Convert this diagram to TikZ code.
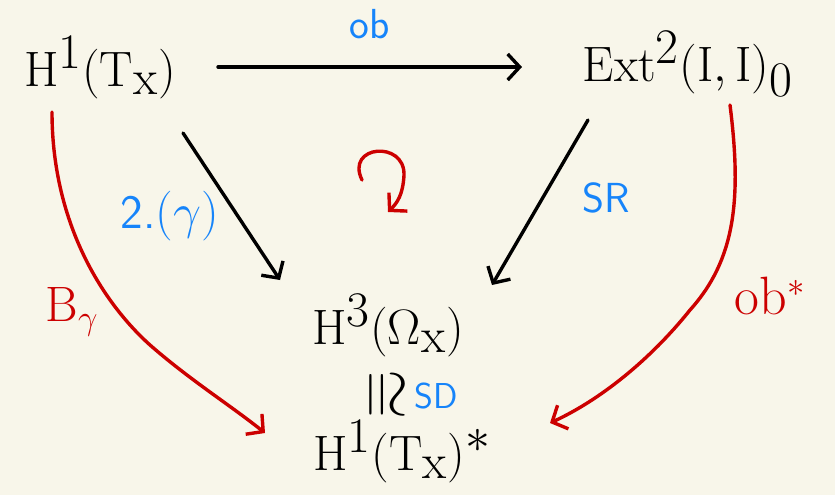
\documentclass[tikz,border=0pt]{standalone}
\usepackage{amsmath,amssymb}
\usetikzlibrary{arrows.meta}
\definecolor{paper}{RGB}{248,246,234}
\definecolor{penblue}{RGB}{22,132,250}
\definecolor{penred}{RGB}{204,0,0}

\begin{document}
\begin{tikzpicture}[x=0.5pt,y=-0.5pt,
  obj/.style={font=\fontsize{34}{38}\selectfont, inner sep=1pt},
  bluelbl/.style={font=\fontsize{19}{22}\selectfont\sffamily, text=penblue},
  redlbl/.style={font=\fontsize{27}{30}\selectfont, text=penred},
  map/.style={line width=1.7pt, line cap=round,
    -{Straight Barb[length=6pt,width=13pt,line width=1.7pt]}},
  redmap/.style={map, draw=penred}]
  \fill[paper] (0,0) rectangle (835,495);

  % the four spaces
  \node[obj] (h1) at (100,68) {$\mathrm{H^1(T_x)}$};
  \node[obj] (ext) at (688,64) {$\mathrm{Ext^2(I,I)_0}$};
  \node[obj] (h3) at (388,326) {$\mathrm{H^3(\Omega_x)}$};
  \node[obj] (dual) at (402,452) {$\mathrm{H^1(T_x)^*}$};

  \node[rotate=-90, inner sep=0pt, font=\fontsize{24.88}{28}\selectfont] (iso) at (383,395) {\scalebox{1.3}{$\cong$}};
  \node[bluelbl, font=\fontsize{18}{20}\selectfont\sffamily] (sd) at (436,396) {SD};

  % black maps
  \draw[map] ([shift={(118,-1)}]h1.center) -- ([shift={(-166,3)}]ext.center)
    node[midway, above=10pt, bluelbl, font=\fontsize{21}{24}\selectfont\sffamily] (ob) {ob};
  \draw[map] ([shift={(83,65)}]h1.center) -- ([shift={(-108,-46)}]h3.center);
  \draw[map] ([shift={(-100,56)}]ext.center) -- ([shift={(104,-41)}]h3.center);
  \node[bluelbl, font=\fontsize{24}{28}\selectfont\sffamily] (gam) at (170,216) {2.$(\gamma)$};
  \node[bluelbl, font=\fontsize{21}{24}\selectfont\sffamily] (sr) at (606,198) {SR};

  % red maps
  \draw[redmap] ([shift={(-48,44)}]h1.center) .. controls (52,220) and (100,300) .. (150,345)
    .. controls (190,380) and (230,405) .. ([shift={(-137,-19)}]dual.center);
  \draw[redmap] ([shift={(42,41)}]ext.center) .. controls (742,200) and (735,260) .. (690,310)
    .. controls (650,360) and (600,400) .. ([shift={(148,-29)}]dual.center);
  \node[redlbl] (bg) at (72,312) {$\mathrm{B}_\gamma$};
  \node[redlbl] (obs) at (770,296) {ob$^{*}$};

  % commutes
  \draw[redmap] (362,180) .. controls (345,145) and (405,140) .. (404,175)
    .. controls (403,195) and (397,203) .. (388,212);
\end{tikzpicture}
\end{document}
